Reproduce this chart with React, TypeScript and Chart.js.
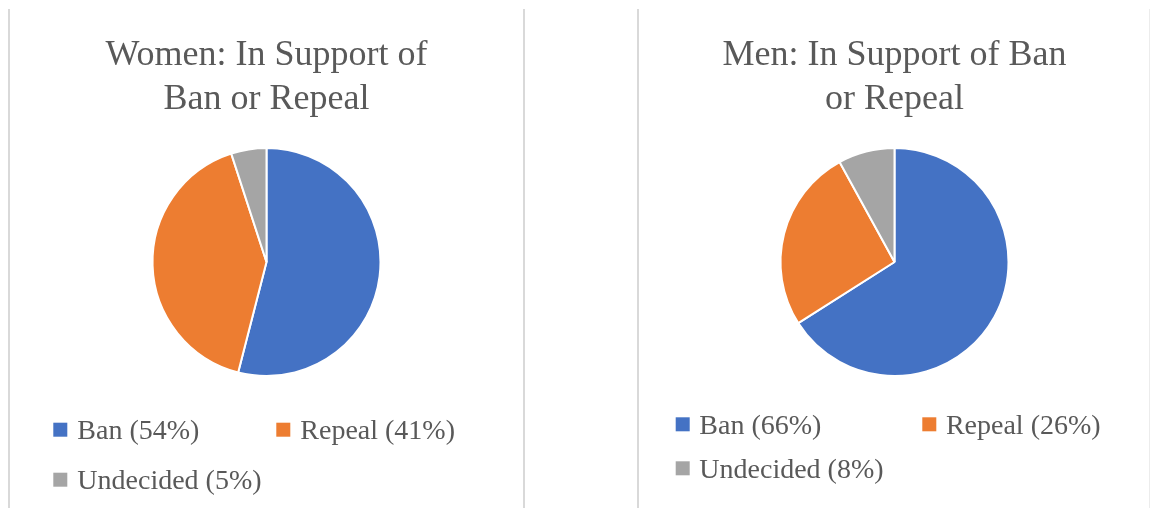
import React, { useEffect, useRef } from "react";
import { Chart, registerables } from "chart.js";

Chart.register(...registerables);

const categories = ["Ban", "Repeal", "Undecided"];
const womenValues = [54, 41, 5];
const menValues = [66, 26, 8];
const womenTitle = ["Women: In Support of", "Ban or Repeal"];
const menTitle = ["Men: In Support of Ban", "or Repeal"];
const sliceColors = ["#4472C4", "#ED7D31", "#A5A5A5"];

const FONT = "'Liberation Serif', 'Times New Roman', serif";
const TEXT = "#595959";

const gridLegend = {
  id: "gridLegend",
  afterDraw(chart: any, _args: any, opts: any) {
    const ctx = chart.ctx;
    const labels = chart.data.labels as string[];
    const colors = chart.data.datasets[0].backgroundColor as string[];
    ctx.save();
    ctx.font = `${opts.size}px ${FONT}`;
    ctx.textBaseline = "alphabetic";
    ctx.textAlign = "left";
    labels.forEach((l, i) => {
      const col = i % 2;
      const row = Math.floor(i / 2);
      const x = opts.x + col * opts.colWidth;
      const base = opts.y + row * opts.rowHeight;
      ctx.fillStyle = colors[i];
      ctx.fillRect(x, base - opts.box - opts.lift, opts.box, opts.box);
      ctx.fillStyle = TEXT;
      ctx.fillText(l, x + opts.box + opts.gap, base);
    });
    ctx.restore();
  },
};

type PanelProps = {
  left: number;
  width: number;
  values: number[];
  title: string[];
  legend: { x: number; y: number; colWidth: number; rowHeight: number; lift: number; gap: number };
};

function PiePanel({ left, width, values, title, legend }: PanelProps) {
  const ref = useRef<HTMLCanvasElement>(null);
  useEffect(() => {
    if (!ref.current) return;
    const chart = new Chart(ref.current, {
      type: "pie",
      data: {
        labels: categories.map((c, i) => `${c} (${values[i]}%)`),
        datasets: [
          {
            data: values,
            backgroundColor: sliceColors,
            borderColor: "#ffffff",
            borderWidth: 2,
            radius: 114,
          } as any,
        ],
      },
      options: {
        animation: false,
        responsive: true,
        maintainAspectRatio: false,
        events: [],
        layout: { padding: { top: 0, bottom: 130, left: 0, right: 0 } },
        plugins: {
          legend: { display: false },
          tooltip: { enabled: false },
          title: {
            display: true,
            text: title,
            color: TEXT,
            font: { family: FONT, size: 36, weight: "normal", lineHeight: 1.222 },
            padding: { top: 34, bottom: 24 },
          },
          gridLegend: { size: 28, box: 14, ...legend },
        } as any,
      },
      plugins: [gridLegend],
    });
    return () => chart.destroy();
  }, []);
  return (
    <div style={{ position: "absolute", left, top: 0, width, height: 508 }}>
      <canvas ref={ref} />
    </div>
  );
}

export default function App() {
  const line = (x: number, w: number, color: string) => (
    <div style={{ position: "absolute", left: x, top: 9, width: w, height: 499, background: color }} />
  );
  return (
    <div style={{ position: "absolute", left: 0, top: 0, width: 1150, height: 508, background: "#fff", overflow: "hidden" }}>
      {line(8, 2, "#d9d9d9")}
      {line(523, 2, "#d9d9d9")}
      {line(637, 2, "#d9d9d9")}
      {line(1149, 1, "#ececec")}
      <PiePanel
        left={10}
        width={513}
        values={womenValues}
        title={womenTitle}
        legend={{ x: 43.3, y: 439.3, colWidth: 223, rowHeight: 50, lift: 2.6, gap: 10 }}
      />
      <PiePanel
        left={640}
        width={509}
        values={menValues}
        title={menTitle}
        legend={{ x: 35.7, y: 434.3, colWidth: 246.6, rowHeight: 44, lift: 3, gap: 9.6 }}
      />
    </div>
  );
}
